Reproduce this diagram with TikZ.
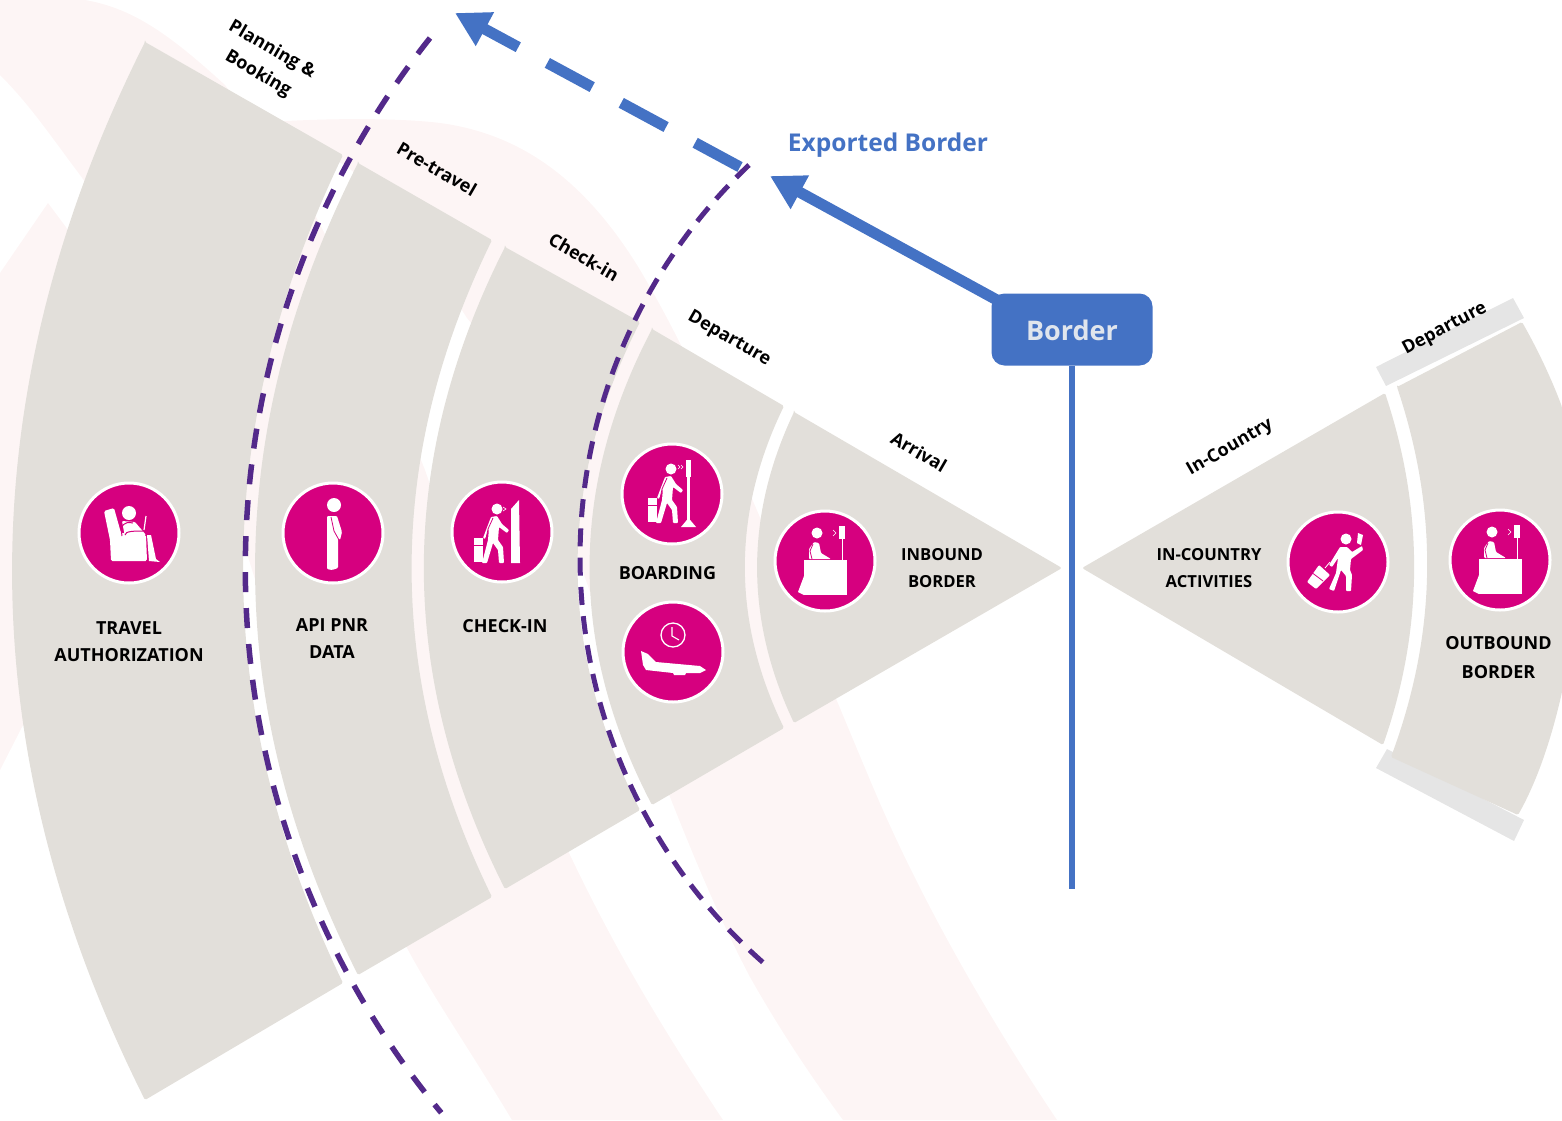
\documentclass[tikz,border=0pt]{standalone}
\usepackage{fontspec}
\setmainfont{Open Sans}
\usetikzlibrary{arrows.meta}
\definecolor{sectiongray}{HTML}{E2DFDA}
\definecolor{bargray}{HTML}{E5E5E5}
\definecolor{bandpink}{HTML}{FDF5F5}
\definecolor{iconpink}{HTML}{D6007F}
\definecolor{borderblue}{HTML}{4472C4}
\definecolor{pathpurple}{HTML}{53298A}
\newcommand{\walkerglyph}{
	\fill[white] (-5,-23) circle (5.5);
	\fill[white,rounded corners=0.8] (-11,-15) -- (-5,-16) -- (0,-8) -- (7,-2) -- (5,1) -- (-3,-5) -- (-4,8) -- (1,15) -- (2,31) -- (-3,31) -- (-4,18) -- (-9,11) -- (-15,31) -- (-20,31) -- (-14,8) -- (-13,-4) -- (-17,7) -- (-19,6) -- cycle;
	\draw[iconpink,line width=0.8] (-9,-14) -- (-14,-3) -- (-16,7);
	\fill[white] (-28,6) rectangle (-19,30);
	\draw[iconpink,line width=0.8] (-28,13) -- (-19,13);
}
\newcommand{\deskglyph}{
	\fill[white] (-8,-28) circle (5.5);
	\fill[white,rounded corners=1] (-16,-2) -- (-16,-12) -- (-11,-19) -- (-6,-18) -- (-4,-8) -- (6,-2) -- cycle;
	\draw[iconpink,line width=0.8] (-12,-17) -- (-15,-10) -- (-13,-2);
	\fill[white] (-21,-1) rectangle (22,34);
	\fill[white] (-21,15) -- (-27,31) -- (-21,34) -- cycle;
	\fill[white] (14,-35) rectangle (20,-22);
	\fill[white] (16.5,-22) rectangle (17.5,-1);
	\draw[white,line width=0.6] (8,-31) -- (11,-28) -- (8,-25);
}
\begin{document}
\begin{tikzpicture}[x=1pt,y=1pt,yscale=-1]
	\tikzstyle{band}=[fill=bandpink]
	\tikzstyle{section}=[fill=sectiongray,rounded corners=1.5]
	\tikzstyle{bar}=[fill=bargray]
	\tikzstyle{icon}=[circle,fill=iconpink,draw=white,line width=3,minimum size=100,inner sep=0]
	\tikzstyle{stage}=[font=\bfseries\fontsize{18}{27}\selectfont,align=center,inner sep=0]
	\tikzstyle{narrowstage}=[font=\bfseries\fontsize{16.6}{27}\selectfont,align=center,inner sep=0]
	\tikzstyle{phase}=[font=\bfseries\fontsize{18}{28}\selectfont,inner sep=0]
	\tikzstyle{dashline}=[draw=pathpurple]
	\tikzstyle{borderedge}=[draw=borderblue,line width=11,-{Triangle[length=34pt,width=36pt]}]
	\useasboundingbox (0,0) rectangle (1562,1120);

	\begin{scope}
		\fill[band] (0,0) -- (85,0) .. controls (130,8) and (165,30) .. (225,85) .. controls (265,140) and (295,175) .. (315,215) .. controls (360,300) and (395,395) .. (425,470) .. controls (470,600) and (520,750) .. (570,855) .. controls (620,960) and (670,1040) .. (723,1120) -- (512,1120) .. controls (470,1050) and (435,1000) .. (407,948) .. controls (340,820) and (285,680) .. (246,550) .. controls (200,400) and (150,270) .. (80,175) .. controls (50,135) and (30,105) .. (0,75) -- cycle;
		\fill[band] (270,122) .. controls (330,118) and (400,118) .. (440,123) .. controls (530,135) and (590,190) .. (637,265) .. controls (710,385) and (790,590) .. (870,780) .. controls (920,900) and (990,1020) .. (1057,1120) -- (843,1120) .. controls (810,1075) and (780,1030) .. (750,977) .. controls (720,920) and (695,860) .. (670,797) .. controls (635,720) and (610,650) .. (580,563) .. controls (550,470) and (510,370) .. (467,318) .. controls (430,260) and (390,200) .. (345,165) -- (270,130) -- cycle;
		\fill[band] (0,273) -- (48,203) -- (120,300) -- (120,600) -- (22,727) -- (0,770) -- cycle;
		\fill[bar] (1376,367) -- (1513,298) -- (1524,318) -- (1386,386) -- cycle;
		\fill[bar] (1387,749) -- (1376,768) -- (1514,841) -- (1524,820) -- cycle;
	\end{scope}

	\begin{scope}
		\path[section] (145,42) -- (343,155) .. controls (210,431) and (210,707) .. (343,983) -- (145,1100) .. controls (-32,747) and (-32,395) .. (145,42) -- cycle;
		\path[section] (358,163) -- (492,240) .. controls (385,459) and (385,678) .. (492,897) -- (358,975) .. controls (221,704) and (221,434) .. (358,163) -- cycle;
		\path[section] (505,247) -- (640,322) .. controls (557,485) and (557,647) .. (640,810) -- (505,889) .. controls (397,675) and (397,461) .. (505,247) -- cycle;
		\path[section] (652,329) -- (784,406) .. controls (732,513) and (732,621) .. (784,728) -- (652,805) .. controls (569,646) and (569,488) .. (652,329) -- cycle;
		\path[section] (794,412) -- (1062,568) -- (794,723) .. controls (745,619) and (745,516) .. (794,412) -- cycle;
		\path[section] (1082,568) -- (1385,393) .. controls (1424,510) and (1424,628) .. (1383,745) -- cycle;
		\path[section] (1397,387) -- (1522,322) .. controls (1538,350) and (1552,380) .. (1562,407) -- (1562,692) .. controls (1550,745) and (1535,785) .. (1518,815) -- (1391,757) .. controls (1438,630) and (1438,510) .. (1397,387) -- cycle;
	\end{scope}

	\draw[dashline,line width=5.5,dash pattern=on 20 off 16] (430,38) arc[start angle=218.4,end angle=140.4,radius=854pt];
	\draw[dashline,line width=5,dash pattern=on 18 off 11.3] (749,165) arc[start angle=226.6,end angle=131.2,radius=540pt];

	\node [icon] (travel) at (129,533) {};
	\node [icon] (api) at (333,533) {};
	\node [icon] (checkin) at (502,532) {};
	\node [icon] (boarding) at (672,494) {};
	\node [icon] (flight) at (673,652) {};
	\node [icon] (inbound) at (825,561) {};
	\node [icon] (incountry) at (1338,562) {};
	\node [icon] (outbound) at (1500,560) {};

	\begin{scope}[shift={(travel)}]
		\fill[white] (0,-20) circle (7);
		\fill[white,rounded corners=1.5] (-25,-22) -- (-15,-25) -- (-8,0) -- (17,2) -- (18,28) -- (-18,28) -- (-19,7) -- cycle;
		\fill[white,rounded corners=1] (-7,-12) -- (6,-11) -- (12,-4) -- (17,2) -- (-4,4) -- cycle;
		\draw[iconpink,line width=1] (-7,3) .. controls (-9,-8) and (-5,-12) .. (4,-10);
		\draw[iconpink,line width=1] (-4,2) .. controls (-4,-2) and (6,-2) .. (14,-2);
		\draw[white,line width=1.2] (17,-17) -- (15,-3);
		\fill[white] (18,2) -- (22,2) -- (27,26) -- (31,29) -- (20,28) -- cycle;
	\end{scope}
	\begin{scope}[shift={(api)}]
		\fill[white] (1,-28) circle (7);
		\fill[white,rounded corners=1] (-6,-17) -- (4,-17) -- (9,-1) -- (7,7) -- (5,5) -- (5,35) -- (-1,37) -- (-6,36) -- cycle;
		\draw[iconpink,line width=0.8] (-2,-16) -- (1,-2) -- (6,7);
	\end{scope}
	\begin{scope}[shift={(checkin)}]
		\walkerglyph
		\fill[white] (9,31) -- (9,-23) -- (17,-32) -- (18,31) -- cycle;
		\draw[white,line width=0.6] (1,-25) -- (4,-23) -- (1,-21);
	\end{scope}
	\begin{scope}[shift={(boarding)}]
		\begin{scope}[shift={(4,-2)}]
			\walkerglyph
		\end{scope}
		\fill[white] (14,-34) rectangle (19,-17);
		\fill[white] (15,-17) rectangle (18,27);
		\fill[white] (16.5,24) -- (24,33) -- (9,33) -- cycle;
		\draw[white,line width=0.6] (6,-29) -- (8,-27) -- (6,-25) (9,-29) -- (11,-27) -- (9,-25);
	\end{scope}
	\begin{scope}[shift={(flight)}]
		\draw[white,line width=1.3] (0,-17) circle (12);
		\draw[white,line width=1.1] (-1,-25) -- (-1,-16) -- (6,-12);
		\fill[white] (-32,-1) -- (-25,2) -- (-17,10) -- (27,14) -- (33,18) -- (27,21) -- (13,21) -- (12,23) -- (1,23) -- (0,21) -- (-27,18) -- (-30,13) -- cycle;
	\end{scope}
	\begin{scope}[shift={(inbound)}]
		\deskglyph
	\end{scope}
	\begin{scope}[shift={(incountry)}]
		\fill[white] (8,-23) circle (5.5);
		\fill[white,rounded corners=0.8] (2,-15) -- (9,-15) -- (14,-10) -- (24,-16) -- (25,-12) -- (13,-3) -- (12,8) -- (14,13) -- (13,29) -- (8,29) -- (8,14) -- (3,8) -- (-4,29) -- (-9,27) -- (-2,11) -- (0,-4) -- (-6,5) -- (-9,3) -- cycle;
		\fill[white] (20,-29) -- (25,-27) -- (23,-17) -- (19,-19) -- cycle;
		\fill[white,rounded corners=1] (-31,20) -- (-19,3) -- (-8,13) -- (-22,27) -- cycle;
		\draw[iconpink,line width=0.8] (-27,10) -- (-15,19);
		\draw[white,line width=0.8] (-13,6) -- (-8,0);
	\end{scope}
	\begin{scope}[shift={(outbound)}]
		\deskglyph
	\end{scope}

	\node [stage] (traveltext) at (129,642) {TRAVEL\\AUTHORIZATION};
	\node [stage] (apitext) at (332,638.5) {API PNR\\DATA};
	\node [stage] (checkintext) at (505,626) {CHECK-IN};
	\node [stage] (boardingtext) at (667.5,573) {BOARDING};
	\node [narrowstage] (inboundtext) at (942,568) {INBOUND\\BORDER};
	\node [narrowstage] (incountrytext) at (1209,568) {IN-COUNTRY\\ACTIVITIES};
	\node [stage,font=\bfseries\fontsize{18}{29}\selectfont] (outboundtext) at (1498.5,658) {OUTBOUND\\BORDER};

	\node [phase,rotate=-30,align=center] (planning) at (265,62) {Planning \&\\Booking};
	\node [phase,rotate=-30] (pretravel) at (437,169) {Pre-travel};
	\node [phase,rotate=-30] (checkinphase) at (584,257) {Check-in};
	\node [phase,rotate=-30] (departin) at (729,339) {Departure};
	\node [phase,rotate=-30] (arrival) at (919,452) {Arrival};
	\node [phase,rotate=30] (countryphase) at (1230,448) {In-Country};
	\node [phase,rotate=28] (departout) at (1445,329) {Departure};

	\node [fill=borderblue,rounded corners=13,minimum width=161,minimum height=72,text=white!90!borderblue!95!black,font=\bfseries\fontsize{27}{30}\selectfont,text height=21,text depth=0] (border) at (1072,329.5) {Border};
	\node [text=borderblue,font=\bfseries\fontsize{24.5}{30}\selectfont,inner sep=0] (exported) at (888,145) {Exported Border};
	\coordinate (borderend) at (1072,889);
	\coordinate (nearhead) at (770,176);
	\coordinate (farstart) at (740,167);
	\coordinate (farhead) at (455,13);
	\path[draw=borderblue,line width=6] (border) -- (borderend);
	\path[borderedge] ([shift={(8,8)}]border.north west) -- (nearhead);
	\path[borderedge,dash pattern=on 51 off 33] (farstart) -- (farhead);
\end{tikzpicture}
\end{document}
